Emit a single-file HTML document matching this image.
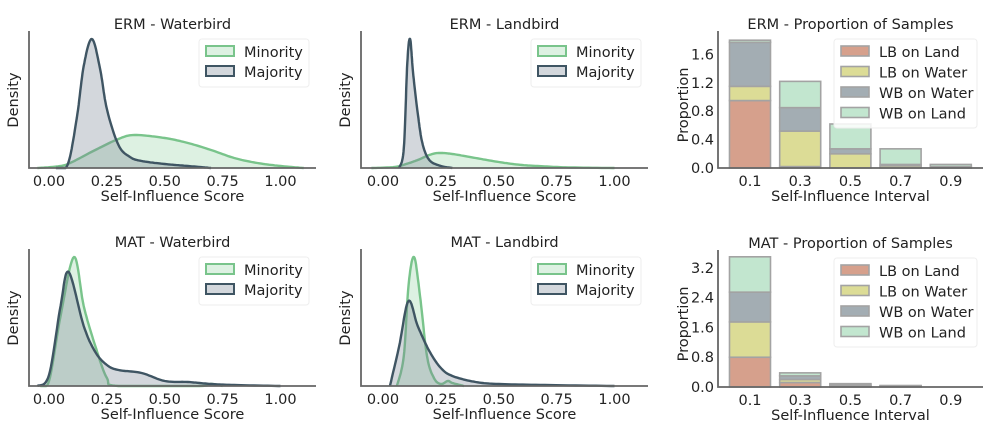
<!DOCTYPE html>
<html><head><meta charset="utf-8">
<style>
html,body{margin:0;padding:0;background:#fff;}
svg{display:block;font-family:"DejaVu Sans","Liberation Sans",sans-serif;}
</style></head>
<body>
<svg id="fig" width="1004" height="432" viewBox="0 0 1004 432" xmlns="http://www.w3.org/2000/svg"></svg>
<script>
// ---- Density data (x = self-influence score, y = density) ----
const ermWbMajX = [0.03,0.08,0.12,0.15,0.185,0.22,0.25,0.3,0.35,0.4,0.5,0.6,0.7];
const ermWbMajY = [0,0.15,2.5,5.1,6.45,5.0,2.95,1.15,0.55,0.35,0.2,0.1,0];
const ermWbMinX = [-0.05,0.05,0.1,0.2,0.3,0.37,0.5,0.6,0.7,0.8,0.9,1.0,1.1];
const ermWbMinY = [0,0.1,0.3,0.9,1.45,1.65,1.5,1.25,0.9,0.5,0.25,0.1,0];
const ermLbMajX = [0.07,0.09,0.105,0.117,0.13,0.15,0.17,0.2,0.25,0.3];
const ermLbMajY = [0,1.0,5.25,6.45,4.75,2.75,1.25,0.4,0.1,0];
const ermLbMinX = [-0.05,0.05,0.1,0.15,0.2,0.24,0.3,0.4,0.5,0.6,0.7,0.8,1.0];
const ermLbMinY = [0,0.05,0.2,0.4,0.65,0.75,0.7,0.5,0.3,0.15,0.08,0.03,0];
const matWbMajX = [-0.05,0.0,0.05,0.085,0.15,0.2,0.25,0.3,0.4,0.5,0.6,0.7,0.8,1.0];
const matWbMajY = [0,0.55,4.0,5.7,3.0,1.7,1.05,0.8,0.65,0.25,0.2,0.1,0.05,0];
const matWbMinX = [-0.04,0.0,0.05,0.108,0.15,0.2,0.25,0.3,0.65,0.7,0.75];
const matWbMinY = [0,0.25,3.5,6.45,4.0,2.0,0.4,0,0,0.1,0];
const matLbMajX = [0.03,0.07,0.11,0.15,0.2,0.25,0.3,0.4,0.5,0.7,1.0];
const matLbMajY = [0,2.0,4.25,3.0,1.75,0.9,0.5,0.2,0.1,0.05,0];
const matLbMinX = [0.06,0.09,0.11,0.134,0.16,0.19,0.22,0.25,0.28,0.3,0.35];
const matLbMinY = [0,1.5,5.0,6.45,4.5,1.5,0.4,0.1,0.25,0.15,0];
// ---- Bar data ----
const intervals = ["0.1","0.3","0.5","0.7","0.9"];
const groups = ["LB on Land","LB on Water","WB on Water","WB on Land"];
const ermLbLand  = [0.95,0.02,0.0,0.0,0.0];
const ermLbWater = [0.2,0.5,0.2,0.03,0.0];
const ermWbWater = [0.62,0.33,0.07,0.02,0.02];
const ermWbLand  = [0.03,0.37,0.35,0.22,0.03];
const matLbLand  = [0.8,0.12,0.02,0.01,0.0];
const matLbWater = [0.95,0.08,0.02,0.01,0.0];
const matWbWater = [0.8,0.1,0.03,0.01,0.0];
const matWbLand  = [0.95,0.08,0.02,0.01,0.0];
const densTicks = [0,0.25,0.5,0.75,1.0];
const densTickLabels = ["0.00","0.25","0.50","0.75","1.00"];
const ermPropTicks = [0,0.4,0.8,1.2,1.6];
const matPropTicks = [0,0.8,1.6,2.4,3.2];

const NS="http://www.w3.org/2000/svg";
const svg=document.getElementById('fig');
const FS=14.5;
function mk(tag,attrs,parent){const e=document.createElementNS(NS,tag);for(const k in attrs)e.setAttribute(k,attrs[k]);(parent||svg).appendChild(e);return e;}
function txt(s,x,y,attrs,parent){const t=mk('text',Object.assign({x:x,y:y,'font-size':FS,fill:'#222'},attrs||{}),parent);t.textContent=s;return t;}

const GREEN='#79c48b', GREENF='rgba(150,210,165,0.32)', DARK='#3f5563', DARKF='rgba(120,135,148,0.33)';
const colors=['#d6a08c','#dcdc96','#a3adb3','#c2e6cf'];

function smooth(xs,ys,n){
  const out=[];
  for(let i=0;i<xs.length-1;i++){
    const p0=[xs[Math.max(i-1,0)],ys[Math.max(i-1,0)]],p1=[xs[i],ys[i]],p2=[xs[i+1],ys[i+1]],p3=[xs[Math.min(i+2,xs.length-1)],ys[Math.min(i+2,xs.length-1)]];
    for(let k=0;k<n;k++){const t=k/n,t2=t*t,t3=t2*t;
      const f=(a,b,c,d)=>0.5*(2*b+(-a+c)*t+(2*a-5*b+4*c-d)*t2+(-a+3*b-3*c+d)*t3);
      out.push([f(p0[0],p1[0],p2[0],p3[0]),Math.max(0,f(p0[1],p1[1],p2[1],p3[1]))]);}
  }
  out.push([xs[xs.length-1],ys[ys.length-1]]);
  return out;
}

function densityPanel(oy,axisX,zeroX,title,curves,name){
  const g=mk('g',{});
  
  
  const base=oy+168, top=oy+31, right=axisX+287;
  const xs=v=>zeroX+231.5*v;
  const ymax=6.85;
  const ys=d=>base-(d/ymax)*(base-top);
  const xmin=(axisX-zeroX)/231.5, xmax=(right-zeroX)/231.5;
  curves.forEach(c=>{
    const pts=smooth(c.x,c.y,12).filter(p=>p[0]>=xmin&&p[0]<=xmax);
    let d='M'+xs(pts[0][0]).toFixed(1)+','+base;
    pts.forEach(p=>{d+=' L'+xs(p[0]).toFixed(1)+','+ys(p[1]).toFixed(1);});
    d+=' L'+xs(pts[pts.length-1][0]).toFixed(1)+','+base+' Z';
    const f=mk('path',{d:d,fill:c.fill,stroke:'none'},g);
    
    
    let l='M'+pts.map(p=>xs(p[0]).toFixed(1)+','+ys(p[1]).toFixed(1)).join(' L');
    const ln=mk('path',{d:l,fill:'none',stroke:c.stroke,'stroke-width':2.4,'stroke-linejoin':'round'},g);
    
    
  });
  const ax=mk('path',{d:`M${axisX},${top} L${axisX},${base} L${right},${base}`,fill:'none',stroke:'#666','stroke-width':1.8},g);
  
  
  densTicks.forEach((v,i)=>{
    const t=txt(densTickLabels[i],xs(v),oy+186,{'text-anchor':'middle'},g);
    
    
  });
  const xl=txt('Self-Influence Score',(axisX+right)/2,oy+201,{'text-anchor':'middle'},g);
  
  
  const yl=txt('Density',0,0,{'text-anchor':'middle',transform:`translate(${axisX-11},${oy+100}) rotate(-90)`},g);
  
  
  const tt=txt(title,(axisX+right)/2,oy+29,{'text-anchor':'middle'},g);
  
  
  const lx=right-117, ly=oy+39;
  const lg=mk('g',{},g);
  
  
  mk('rect',{x:lx,y:ly,width:110,height:48,rx:3,fill:'#fff',stroke:'#eee'},lg);
  [['Minority',GREENF,GREEN],['Majority',DARKF,DARK]].forEach((e,i)=>{
    const r=mk('rect',{x:lx+7,y:ly+7+i*20,width:28,height:10,fill:e[1],stroke:e[2],'stroke-width':2},lg);
    
    
    const t=txt(e[0],lx+45,ly+18+i*20,{},lg);
    
    
  });
}

function barPanel(oy,title,series,ticks,yPerUnit,name){
  const g=mk('g',{});
  
  
  const axisX=718, right=983, base=oy+168, top=oy+31;
  const cx=i=>750+50.2*i, ys=v=>base-v*yPerUnit;
  intervals.forEach((lab,i)=>{
    let acc=0;
    series.forEach((s,j)=>{
      const v=s[i]; if(v<=0) return;
      const r=mk('rect',{x:cx(i)-20.5,y:ys(acc+v),width:41,height:v*yPerUnit,fill:colors[j],stroke:'#a3a3a3','stroke-width':1.6},g);
      
      
      acc+=v;
    });
    const t=txt(lab,cx(i),oy+186,{'text-anchor':'middle'},g);
    
    
  });
  ticks.forEach(v=>{
    const t=txt(v.toFixed(1),714,ys(v)+5,{'text-anchor':'end'},g);
    
    
  });
  const ax=mk('path',{d:`M${axisX},${top} L${axisX},${base} L${right},${base}`,fill:'none',stroke:'#666','stroke-width':1.8},g);
  
  
  const xl=txt('Self-Influence Interval',(axisX+right)/2,oy+201,{'text-anchor':'middle'},g);
  
  
  const yl=txt('Proportion',0,0,{'text-anchor':'middle',transform:`translate(688,${oy+105}) rotate(-90)`},g);
  
  
  const tt=txt(title,(axisX+right)/2,oy+29,{'text-anchor':'middle'},g);
  
  
  const lx=834, ly=oy+39;
  const lg=mk('g',{},g);
  
  
  mk('rect',{x:lx,y:ly,width:143,height:89,rx:3,fill:'rgba(255,255,255,0.85)',stroke:'#eee'},lg);
  groups.forEach((gname,j)=>{
    const r=mk('rect',{x:lx+7,y:ly+7+j*20.5,width:28,height:10,fill:colors[j],stroke:'#a3a3a3','stroke-width':1.6},lg);
    
    
    const t=txt(gname,lx+45,ly+18+j*20.5,{},lg);
    
    
  });
}

densityPanel(0,29,49,'ERM - Waterbird',[
  {x:ermWbMinX,y:ermWbMinY,fill:GREENF,stroke:GREEN,name:'minority-density'},
  {x:ermWbMajX,y:ermWbMajY,fill:DARKF,stroke:DARK,name:'majority-density'}],'erm-waterbird-panel');
densityPanel(0,361,383,'ERM - Landbird',[
  {x:ermLbMinX,y:ermLbMinY,fill:GREENF,stroke:GREEN,name:'minority-density'},
  {x:ermLbMajX,y:ermLbMajY,fill:DARKF,stroke:DARK,name:'majority-density'}],'erm-landbird-panel');
densityPanel(218,29,49,'MAT - Waterbird',[
  {x:matWbMinX,y:matWbMinY,fill:GREENF,stroke:GREEN,name:'minority-density'},
  {x:matWbMajX,y:matWbMajY,fill:DARKF,stroke:DARK,name:'majority-density'}],'mat-waterbird-panel');
densityPanel(218,361,383,'MAT - Landbird',[
  {x:matLbMinX,y:matLbMinY,fill:GREENF,stroke:GREEN,name:'minority-density'},
  {x:matLbMajX,y:matLbMajY,fill:DARKF,stroke:DARK,name:'majority-density'}],'mat-landbird-panel');
barPanel(0,'ERM - Proportion of Samples',[ermLbLand,ermLbWater,ermWbWater,ermWbLand],ermPropTicks,71,'erm-proportion-panel');
barPanel(219,'MAT - Proportion of Samples',[matLbLand,matLbWater,matWbWater,matWbLand],matPropTicks,37.2,'mat-proportion-panel');
</script>
</body></html>
